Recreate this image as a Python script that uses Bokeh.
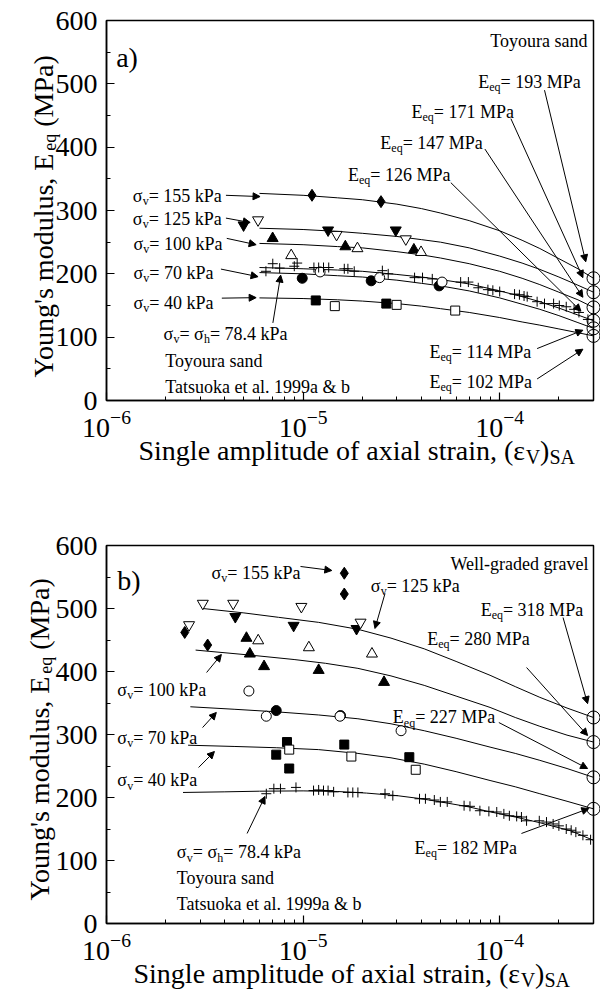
import math
from bokeh.plotting import figure
from bokeh.models import Range1d, FixedTicker, Label, Arrow, NormalHead
from bokeh.core.properties import value
from bokeh.layouts import column
from bokeh.embed import file_html
from bokeh.resources import INLINE

FONT = "Liberation Serif"

# ---------------- ticks ----------------
X_MAJOR = [1e-6, 1e-5, 1e-4]
X_MINOR = [2e-6, 3e-6, 4e-6, 5e-6, 6e-6, 7e-6, 8e-6, 9e-6,
           2e-5, 3e-5, 4e-5, 5e-5, 6e-5, 7e-5, 8e-5, 9e-5, 2e-4, 3e-4]
Y_MAJOR = [0, 100, 200, 300, 400, 500, 600]
Y_MINOR = [50, 150, 250, 350, 450, 550]
X_START = 1e-6
X_END = 3e-4

# ---------------- panel a data (Toyoura sand) ----------------
a_diam_x = [1.11e-5, 2.49e-5]
a_diam_y = [324, 314]
a_dtri_f_x = [4.98e-6, 1.34e-5, 2.96e-5]
a_dtri_f_y = [277, 269, 269]
a_dtri_o_x = [5.9e-6, 1.48e-5, 3.33e-5]
a_dtri_o_y = [285, 262, 255]
a_utri_f_x = [7.0e-6, 1.64e-5, 3.66e-5]
a_utri_f_y = [256, 243, 238]
a_utri_o_x = [8.7e-6, 1.89e-5, 3.98e-5]
a_utri_o_y = [229, 240, 234]
a_circ_f_x = [9.9e-6, 2.22e-5, 4.92e-5]
a_circ_f_y = [193, 189, 181]
a_circ_o_x = [1.22e-5, 2.45e-5, 5.09e-5]
a_circ_o_y = [203, 194, 187]
a_sq_f_x = [1.16e-5, 2.65e-5]
a_sq_f_y = [158, 153]
a_sq_o_x = [1.45e-5, 2.99e-5, 5.94e-5]
a_sq_o_y = [149, 151, 142]
a_toy_x = [6.47e-6, 7.01e-6, 7.60e-6, 9.02e-6, 9.33e-6, 1.135e-5, 1.20e-5, 1.27e-5, 1.35e-5,
           1.62e-5, 1.69e-5, 1.82e-5, 2.53e-5, 2.71e-5, 3.69e-5, 4.05e-5, 4.54e-5, 6.33e-5,
           6.93e-5, 7.78e-5, 8.71e-5, 9.23e-5, 1.0e-4, 1.19e-4, 1.26e-4, 1.33e-4, 1.38e-4,
           1.55e-4, 1.69e-4, 1.88e-4, 2.01e-4, 2.18e-4, 2.39e-4, 2.53e-4, 2.81e-4]
a_toy_y = [204, 216, 209, 212, 217, 210, 210, 210, 210, 208, 208, 204, 205, 200, 194, 194, 192,
           187, 187, 178, 175, 174, 172, 168, 167, 165, 164, 156, 153, 153, 150, 148, 144, 139, 128]

# fitted curves
a_curve_x = [6.0e-6, 1.0e-5, 1.5e-5, 2.0e-5, 3.0e-5, 4.0e-5, 5.0e-5, 7.0e-5, 1.0e-4,
             1.3e-4, 1.6e-4, 2.0e-4, 2.5e-4, 3.0e-4]
a_c155_y = [327, 324, 320, 317, 310, 303, 296, 284, 268, 253, 240, 224, 208, 193]
a_c125_y = [272, 270, 267, 264, 259, 254, 250, 241, 228, 217, 207, 195, 182, 171]
a_c100_y = [248, 246, 243, 241, 235, 230, 225, 216, 204, 193, 183, 171, 159, 147]
a_ctoy_y = [210, 208, 206, 204, 199, 195, 191, 184, 173, 164, 156, 146, 135, 126]
a_c70_y = [202, 200, 197, 195, 190, 185, 181, 173, 162, 152, 144, 134, 123, 114]
a_c40_y = [162, 161, 159, 157, 153, 149, 145, 139, 131, 124, 119, 113, 107, 102]
a_eq_y = [193, 171, 147, 126, 114, 102]
a_eq_text = ["193", "171", "147", "126", "114", "102"]

# ---------------- panel b data (well-graded gravel) ----------------
b_diam_x = [2.5e-6, 3.27e-6, 1.62e-5, 1.62e-5]
b_diam_y = [462, 442, 556, 523]
b_dtri_o_x = [2.63e-6, 3.09e-6, 4.41e-6, 9.8e-6, 1.96e-5]
b_dtri_o_y = [474, 508, 508, 503, 478]
b_dtri_f_x = [4.52e-6, 8.95e-6, 1.87e-5]
b_dtri_f_y = [487, 473, 468]
b_utri_f_x = [5.15e-6, 5.36e-6, 6.33e-6, 1.2e-5, 2.58e-5]
b_utri_f_y = [453, 428, 408, 402, 383]
b_utri_o_x = [5.91e-6, 1.07e-5, 2.24e-5]
b_utri_o_y = [449, 438, 428]
b_circ_o_x = [5.3e-6, 6.5e-6, 1.54e-5, 3.15e-5]
b_circ_o_y = [369, 329, 329, 306]
b_circ_f_x = [7.3e-6, 1.55e-5]
b_circ_f_y = [338, 330]
b_sq_f_x = [7.3e-6, 8.28e-6, 8.5e-6, 1.62e-5, 3.47e-5]
b_sq_f_y = [268, 288, 246, 284, 264]
b_sq_o_x = [8.5e-6, 1.76e-5, 3.74e-5]
b_sq_o_y = [276, 265, 244]
b_toy_x = [6.50e-6, 7.10e-6, 7.67e-6, 9.20e-6, 1.13e-5, 1.20e-5, 1.27e-5, 1.34e-5, 1.43e-5,
           1.69e-5, 1.79e-5, 1.90e-5, 2.61e-5, 2.86e-5, 3.91e-5, 4.19e-5, 4.65e-5, 4.99e-5,
           5.41e-5, 6.59e-5, 7.06e-5, 7.93e-5, 8.81e-5, 9.66e-5, 1.05e-4, 1.12e-4, 1.22e-4,
           1.29e-4, 1.37e-4, 1.59e-4, 1.73e-4, 1.87e-4, 2.00e-4, 2.18e-4, 2.31e-4, 2.44e-4,
           2.65e-4, 2.90e-4]
b_toy_y = [206, 214, 214, 216, 211, 212, 211, 211, 209, 208, 208, 208, 206, 203, 198, 198, 196,
           193, 193, 187, 186, 179, 178, 177, 174, 171, 170, 169, 163, 163, 161, 158, 155, 150,
           148, 145, 140, 133]

b_c125_x = [3.09e-6, 5e-6, 7.5e-6, 1.2e-5, 1.9e-5, 2.8e-5, 4.13e-5, 6e-5, 8.93e-5, 1.2e-4,
            1.6e-4, 2.2e-4, 3.0e-4]
b_c125_y = [500, 493, 486, 478, 467, 453, 436, 416, 394, 376, 359, 342, 327]
b_c100_x = [2.84e-6, 5.4e-6, 9e-6, 1.3e-5, 1.9e-5, 2.8e-5, 4.13e-5, 6e-5, 8.93e-5, 1.2e-4,
            1.6e-4, 2.2e-4, 3.0e-4]
b_c100_y = [434, 426, 419, 413, 405, 393, 378, 361, 343, 327, 313, 299, 288]
b_c70_x = [2.67e-6, 4.5e-6, 7.3e-6, 1.2e-5, 1.9e-5, 2.8e-5, 4.13e-5, 6e-5, 8.93e-5, 1.2e-4,
           1.6e-4, 2.2e-4, 3.0e-4]
b_c70_y = [344, 340, 336, 331, 325, 317, 306, 294, 280, 270, 259, 246, 232]
b_c40_x = [2.6e-6, 4.5e-6, 7.3e-6, 1.2e-5, 1.9e-5, 2.8e-5, 4.13e-5, 6e-5, 8.93e-5, 1.2e-4,
           1.6e-4, 2.2e-4, 3.0e-4]
b_c40_y = [283, 281, 279, 276, 270, 263, 253, 241, 227, 217, 206, 194, 182]
b_ctoy_x = [2.45e-6, 4e-6, 6e-6, 1e-5, 1.5e-5, 2.1e-5, 3e-5, 4e-5, 5e-5, 7e-5, 9e-5, 1.2e-4,
            1.6e-4, 2.3e-4, 3.0e-4]
b_ctoy_y = [208, 209, 210, 210.5, 209.5, 207, 203, 198, 193, 185, 177, 169, 160, 147, 132]
b_eq_y = [327, 288, 232, 182]
b_eq_text = ["318", "280", "227", "182"]

# ---------------- text helpers ----------------
TW = {' ': 250, "'": 180, '(': 333, ')': 333, ',': 250, '-': 333, '.': 250, '=': 564, '&': 778,
      'A': 722, 'E': 611, 'M': 889, 'P': 556, 'S': 556, 'T': 611, 'V': 722, 'W': 944, 'Y': 722,
      'a': 444, 'b': 500, 'c': 444, 'd': 500, 'e': 444, 'f': 333, 'g': 500, 'h': 500, 'i': 278,
      'k': 500, 'l': 278, 'm': 778, 'n': 500, 'o': 500, 'p': 500, 'q': 500, 'r': 333, 's': 389,
      't': 278, 'u': 500, 'v': 500, 'x': 500, 'y': 500, 'σ': 549, 'ε': 439}


def tw(s, size):
    return sum(TW.get(c, 500) for c in s) * size / 1000.0


def split_lead(text, fs):
    stripped = text.lstrip(" ")
    return stripped, tw(text[:len(text) - len(stripped)], fs)


def rich(p, x, y, parts, size, sub_scale=0.66, sub_drop=0.28):
    adv = 0.0
    for text, kind in parts:
        fs = size if kind == "n" else round(size * sub_scale)
        dy = 0.0 if kind == "n" else -sub_drop * size
        text, lead = split_lead(text, fs)
        adv += lead
        p.add_layout(Label(x=x, y=y, text=text, x_offset=adv, y_offset=dy,
                           text_font=FONT, text_font_size=f"{fs}px", text_color="black",
                           text_align="left", text_baseline="alphabetic"))
        adv += tw(text, fs)


def axis_text(p, x_px, y_px, parts, size, ppu, vertical=False, sub_scale=0.7, sub_drop=0.22):
    """Axis titles with subscripts, drawn as overlay text glyphs outside the frame.
    x_px: pixels from the frame's left edge; y_px: pixels above the frame's bottom."""
    adv = 0.0
    for text, kind in parts:
        fs = size if kind == "n" else round(size * sub_scale)
        drop = 0.0 if kind == "n" else sub_drop * size
        text, lead = split_lead(text, fs)
        adv += lead
        if vertical:
            xo = x_px + drop
            yd = (y_px + adv) / ppu
            ang = math.pi / 2
        else:
            xo = x_px + adv
            yd = (y_px - drop) / ppu
            ang = 0.0
        p.text(x=[X_START], y=[yd], text=[text], x_offset=xo, angle=ang,
               text_font=value(FONT), text_font_size=value(f"{fs}px"), text_color="black",
               text_align="left", text_baseline="alphabetic", level="overlay")
        adv += tw(text, fs)


def plain(p, x, y, text, size, align="left", xo=0):
    p.add_layout(Label(x=x, y=y, text=text, x_offset=xo, text_font=FONT,
                       text_font_size=f"{size}px", text_color="black",
                       text_align=align, text_baseline="alphabetic"))


def arrow(p, x0, y0, x1, y1):
    p.add_layout(Arrow(x_start=x0, y_start=y0, x_end=x1, y_end=y1, line_width=1,
                       line_color="black",
                       end=NormalHead(size=7, line_color="black", fill_color="black",
                                      line_width=1)))


def sig(v):
    return [("σ", "n"), ("v", "s"), ("= " + v + " kPa", "n")]


def eeq(v):
    return [("E", "n"), ("eq", "s"), ("= " + v + " MPa", "n")]


TOY78 = [("σ", "n"), ("v", "s"), ("= σ", "n"), ("h", "s"), ("= 78.4 kPa", "n")]
XLAB = [("Single amplitude of axial strain, (ε", "n"), ("V", "s"), (")", "n"), ("SA", "s")]
YLAB = [("Young's modulus, E", "n"), ("eq", "s"), (" (MPa)", "n")]


def make_fig(height, bl, bt, bb):
    p = figure(width=600, height=height, x_axis_type="log",
               x_range=Range1d(X_START, X_END), y_range=Range1d(0, 600),
               output_backend="svg", toolbar_location=None,
               min_border_left=bl, min_border_right=7, min_border_top=bt,
               min_border_bottom=bb)
    p.grid.visible = False
    p.background_fill_color = "white"
    p.border_fill_color = "white"
    p.outline_line_color = "black"
    p.outline_line_width = 1.5
    xa = p.xaxis[0]
    ya = p.yaxis[0]
    xa.ticker = FixedTicker(ticks=X_MAJOR, minor_ticks=X_MINOR)
    ya.ticker = FixedTicker(ticks=Y_MAJOR, minor_ticks=Y_MINOR)
    for ax in (xa, ya):
        ax.major_tick_in = 8
        ax.major_tick_out = 0
        ax.minor_tick_in = 4
        ax.minor_tick_out = 0
        ax.major_tick_line_width = 1.2
        ax.minor_tick_line_width = 1
        ax.axis_line_width = 1.5
        ax.major_label_text_font = FONT
        ax.major_label_text_font_size = "28px"
        ax.major_label_text_color = "black"
    xa.major_label_standoff = 10
    ya.major_label_standoff = 9
    return p


def markers(p, s):
    p.scatter(s["diam_x"], s["diam_y"], marker="diamond", size=12, fill_color="black",
              line_color="black")
    p.scatter(s["dtri_f_x"], s["dtri_f_y"], marker="inverted_triangle", size=11,
              fill_color="black", line_color="black")
    p.scatter(s["dtri_o_x"], s["dtri_o_y"], marker="inverted_triangle", size=11,
              fill_color="white", line_color="black")
    p.scatter(s["utri_f_x"], s["utri_f_y"], marker="triangle", size=11, fill_color="black",
              line_color="black")
    p.scatter(s["utri_o_x"], s["utri_o_y"], marker="triangle", size=11, fill_color="white",
              line_color="black")
    p.scatter(s["circ_f_x"], s["circ_f_y"], marker="circle", size=10, fill_color="black",
              line_color="black")
    p.scatter(s["circ_o_x"], s["circ_o_y"], marker="circle", size=10, fill_color="white",
              line_color="black")
    p.scatter(s["sq_f_x"], s["sq_f_y"], marker="square", size=9, fill_color="black",
              line_color="black")
    p.scatter(s["sq_o_x"], s["sq_o_y"], marker="square", size=9, fill_color="white",
              line_color="black")
    p.scatter(s["toy_x"], s["toy_y"], marker="cross", size=10, line_color="black",
              line_width=1)


# ================= panel a =================
A_FRAME_H = 380
pa = make_fig(490, 100, 20, 90)
for cy in [a_c155_y, a_c125_y, a_c100_y, a_ctoy_y, a_c70_y, a_c40_y]:
    pa.line(a_curve_x, cy, line_color="black", line_width=1)
markers(pa, dict(diam_x=a_diam_x, diam_y=a_diam_y, dtri_f_x=a_dtri_f_x, dtri_f_y=a_dtri_f_y,
                 dtri_o_x=a_dtri_o_x, dtri_o_y=a_dtri_o_y, utri_f_x=a_utri_f_x,
                 utri_f_y=a_utri_f_y, utri_o_x=a_utri_o_x, utri_o_y=a_utri_o_y,
                 circ_f_x=a_circ_f_x, circ_f_y=a_circ_f_y, circ_o_x=a_circ_o_x,
                 circ_o_y=a_circ_o_y, sq_f_x=a_sq_f_x, sq_f_y=a_sq_f_y, sq_o_x=a_sq_o_x,
                 sq_o_y=a_sq_o_y, toy_x=a_toy_x, toy_y=a_toy_y))
pa.scatter([X_END] * len(a_eq_y), a_eq_y, marker="circle", size=13, fill_color=None,
           line_color="black", line_width=1, level="overlay")

plain(pa, 1.12e-6, 541, "a)", 28)
plain(pa, X_END, 567, "Toyoura sand", 18, align="right", xo=-6)
for (lx, ly), t in zip([(7.78e-5, 503), (3.56e-5, 456), (2.47e-5, 407), (1.69e-5, 356),
                        (4.39e-5, 76), (4.39e-5, 29)], a_eq_text):
    rich(pa, lx, ly, eeq(t), 18)
for (lx, ly), t in zip([(1.36e-6, 323), (1.36e-6, 287), (1.37e-6, 247), (1.37e-6, 201.5),
                        (1.37e-6, 154)], ["155", "125", "100", "70", "40"]):
    rich(pa, lx, ly, sig(t), 18)
rich(pa, 1.95e-6, 104.5, TOY78, 18)
plain(pa, 1.99e-6, 62, "Toyoura sand", 18)
plain(pa, 1.99e-6, 21, "Tatsuoka et al. 1999a & b", 18)

arrow(pa, 4.05e-6, 324, 6.04e-6, 322)
arrow(pa, 4.05e-6, 288, 5.38e-6, 281)
arrow(pa, 4.09e-6, 256, 5.77e-6, 246)
arrow(pa, 3.82e-6, 207.5, 5.9e-6, 195.5)
arrow(pa, 3.86e-6, 161.6, 5.77e-6, 162.4)
arrow(pa, 7.02e-6, 122.5, 7.69e-6, 198)
arrow(pa, 1.69e-4, 490, 2.74e-4, 219)
arrow(pa, 1.14e-4, 445, 2.65e-4, 194)
arrow(pa, 8.41e-5, 397, 2.65e-4, 163)
arrow(pa, 5.64e-5, 344, 2.59e-4, 141)
arrow(pa, 1.55e-4, 82, 2.65e-4, 111)
arrow(pa, 1.55e-4, 34, 2.65e-4, 81)

axis_text(pa, 32, -50, XLAB, 28, A_FRAME_H / 600.0)
axis_text(pa, -63, 23, YLAB, 28, A_FRAME_H / 600.0, vertical=True, sub_scale=0.66,
          sub_drop=0.24)

# ================= panel b =================
B_FRAME_H = 378
pb = make_fig(500, 106, 55, 67)
for cx, cy in [(b_c125_x, b_c125_y), (b_c100_x, b_c100_y), (b_c70_x, b_c70_y),
               (b_c40_x, b_c40_y), (b_ctoy_x, b_ctoy_y)]:
    pb.line(cx, cy, line_color="black", line_width=1)
markers(pb, dict(diam_x=b_diam_x, diam_y=b_diam_y, dtri_f_x=b_dtri_f_x, dtri_f_y=b_dtri_f_y,
                 dtri_o_x=b_dtri_o_x, dtri_o_y=b_dtri_o_y, utri_f_x=b_utri_f_x,
                 utri_f_y=b_utri_f_y, utri_o_x=b_utri_o_x, utri_o_y=b_utri_o_y,
                 circ_f_x=b_circ_f_x, circ_f_y=b_circ_f_y, circ_o_x=b_circ_o_x,
                 circ_o_y=b_circ_o_y, sq_f_x=b_sq_f_x, sq_f_y=b_sq_f_y, sq_o_x=b_sq_o_x,
                 sq_o_y=b_sq_o_y, toy_x=b_toy_x, toy_y=b_toy_y))
pb.scatter([X_END] * len(b_eq_y), b_eq_y, marker="circle", size=13, fill_color=None,
           line_color="black", line_width=1, level="overlay")

plain(pb, 1.135e-6, 544, "b)", 28)
plain(pb, X_END, 570, "Well-graded gravel", 18, align="right", xo=-5)
rich(pb, 3.42e-6, 557, sig("155"), 18)
rich(pb, 2.21e-5, 536.5, sig("125"), 18)
for (lx, ly), t in zip([(8.0e-5, 497), (4.28e-5, 451), (2.86e-5, 327), (3.69e-5, 120.6)],
                       b_eq_text):
    rich(pb, lx, ly, eeq(t), 18)
for (lx, ly), t in zip([(1.135e-6, 370), (1.135e-6, 295), (1.135e-6, 227)],
                       ["100", "70", "40"]):
    rich(pb, lx, ly, sig(t), 18)
rich(pb, 2.28e-6, 112.7, TOY78, 18)
plain(pb, 2.28e-6, 73, "Toyoura sand", 18)
plain(pb, 2.28e-6, 31.7, "Tatsuoka et al. 1999a & b", 18)

arrow(pb, 9.7e-6, 566.7, 1.4e-5, 560.3)
arrow(pb, 2.61e-5, 523.8, 2.32e-5, 468.3)
arrow(pb, 2.1e-4, 485.7, 2.8e-4, 349)
arrow(pb, 1.37e-4, 406.3, 2.8e-4, 298.4)
arrow(pb, 9.9e-5, 319, 2.8e-4, 246)
arrow(pb, 1.29e-4, 142.9, 2.84e-4, 182.5)
arrow(pb, 3.23e-6, 398.4, 3.84e-6, 427)
arrow(pb, 3.08e-6, 311, 3.62e-6, 335)
arrow(pb, 2.94e-6, 247.6, 3.54e-6, 273)
arrow(pb, 5.19e-6, 142.9, 6.4e-6, 201.6)

axis_text(pb, 27, -50, XLAB, 28, B_FRAME_H / 600.0)
axis_text(pb, -67, 23, YLAB, 28, B_FRAME_H / 600.0, vertical=True, sub_scale=0.66,
          sub_drop=0.24)

layout = column(pa, pb, spacing=0)
open("out.html", "w").write(file_html(layout, INLINE))
